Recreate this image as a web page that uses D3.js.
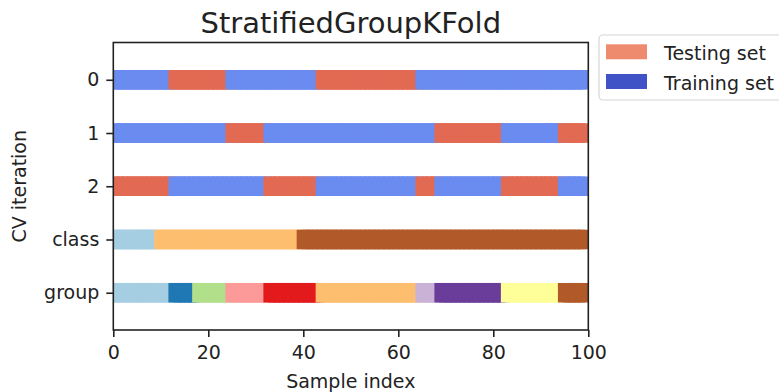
<!DOCTYPE html>
<html>
<head>
  <title>StratifiedGroupKFold</title>
  <script src="https://d3js.org/d3.v7.min.js"></script>
  <style>
    body { margin: 0; background: #fff; }
    text { font-family: "DejaVu Sans", sans-serif; fill: #222; }
  </style>
</head>
<body>
<svg id="chart" width="779" height="392"></svg>
<script>
// samples per group (groups 0..9), in index order
var groupSizes = [13, 5, 7, 8, 11, 21, 4, 14, 12, 5];
// samples per class (classes 0..2)
var classSizes = [10, 30, 60];
// test groups in each CV split
var testGroups = [[1, 2, 5], [3, 7, 9], [0, 4, 6, 8]];
var rowLabels = ["0", "1", "2", "class", "group"];
var xTicks = [0, 20, 40, 60, 80, 100];

var groupColors = ["#a6cee3", "#1f78b4", "#b2df8a", "#fb9a99", "#e31a1c",
                   "#fdbf6f", "#cab2d6", "#6a3d9a", "#ffff99", "#b15928"];
var classColors = ["#a6cee3", "#fdbf6f", "#b15928"];
var trainColor = "#6a8bef", testColor = "#e26a53";

// expand sizes into a label per sample
function expand(sizes) {
  var out = [];
  sizes.forEach(function(n, k) { for (var j = 0; j < n; j++) out.push(k); });
  return out;
}
var groups = expand(groupSizes);
var classes = expand(classSizes);

var svg = d3.select("#chart");
var axL = 113.3, axR = 588.3, axT = 42.5, axB = 330;

var x = d3.scaleLinear().domain([0, 100]).range([axL, axR]);
var y = d3.scaleLinear().domain([-0.2, 5.2]).range([axT, axB]);

svg.append("clipPath").attr("id", "clip")
  .append("rect")
  .attr("x", axL).attr("y", axT)
  .attr("width", axR - axL).attr("height", axB - axT);

var plot = svg.append("g").attr("clip-path", "url(#clip)");

var half = 1.4;     // marker half-width in sample units
var barH = 19.5;

function drawRow(values, row, colorOf) {
  plot.append("g").selectAll("rect")
    .data(values)
    .enter().append("rect")
    .attr("x", function(d, i) { return x(i - half); })
    .attr("width", x(2 * half) - x(0))
    .attr("y", y(row + 0.5) - barH / 2)
    .attr("height", barH)
    .attr("fill", colorOf);
}

testGroups.forEach(function(tg, ii) {
  drawRow(groups, ii, function(g) { return tg.indexOf(g) >= 0 ? testColor : trainColor; });
});
drawRow(classes, 3, function(c) { return classColors[c]; });
drawRow(groups, 4, function(g) { return groupColors[g]; });

// axes
var xAxis = d3.axisBottom(x).tickValues(xTicks).tickSize(7).tickPadding(9);
var gx = svg.append("g").attr("transform", "translate(0," + axB + ")").call(xAxis);

var yAxis = d3.axisLeft(y)
  .tickValues(rowLabels.map(function(d, i) { return i + 0.5; }))
  .tickFormat(function(d, i) { return rowLabels[i]; })
  .tickSize(7).tickPadding(7);
var gy = svg.append("g").attr("transform", "translate(" + axL + ",0)").call(yAxis);

[gx, gy].forEach(function(g) {
  g.select(".domain").remove();
  g.selectAll(".tick line").attr("stroke", "#222").attr("stroke-width", 1.6);
  g.selectAll(".tick text").style("font-size", "19px").attr("fill", "#222");
});

svg.append("rect")
  .attr("x", axL).attr("y", axT)
  .attr("width", axR - axL).attr("height", axB - axT)
  .attr("fill", "none").attr("stroke", "#222").attr("stroke-width", 1.6);

// labels
svg.append("text")
  .attr("x", (axL + axR) / 2).attr("y", 33)
  .attr("text-anchor", "middle").style("font-size", "29px")
  .text("StratifiedGroupKFold");

svg.append("text")
  .attr("x", (axL + axR) / 2).attr("y", 388)
  .attr("text-anchor", "middle").style("font-size", "19px")
  .text("Sample index");

svg.append("text")
  .attr("transform", "translate(26," + (axT + axB) / 2 + ") rotate(-90)")
  .attr("text-anchor", "middle").style("font-size", "19px")
  .text("CV iteration");

// legend
var legend = svg.append("g");
legend.append("rect")
  .attr("x", 599).attr("y", 35).attr("width", 200).attr("height", 65)
  .attr("rx", 4).attr("fill", "#fff").attr("fill-opacity", 0.8)
  .attr("stroke", "#d6d6d6").attr("stroke-width", 1.2);

var legendItems = [["Testing set", "#ee8a6e"], ["Training set", "#3f53c6"]];
legendItems.forEach(function(d, i) {
  var yy = 44.3 + i * 29.7;
  legend.append("rect").attr("x", 606).attr("y", yy)
    .attr("width", 41).attr("height", 15).attr("fill", d[1]);
  legend.append("text").attr("x", 664).attr("y", yy + 15.5)
    .style("font-size", "19px").text(d[0]);
});
</script>
</body>
</html>
